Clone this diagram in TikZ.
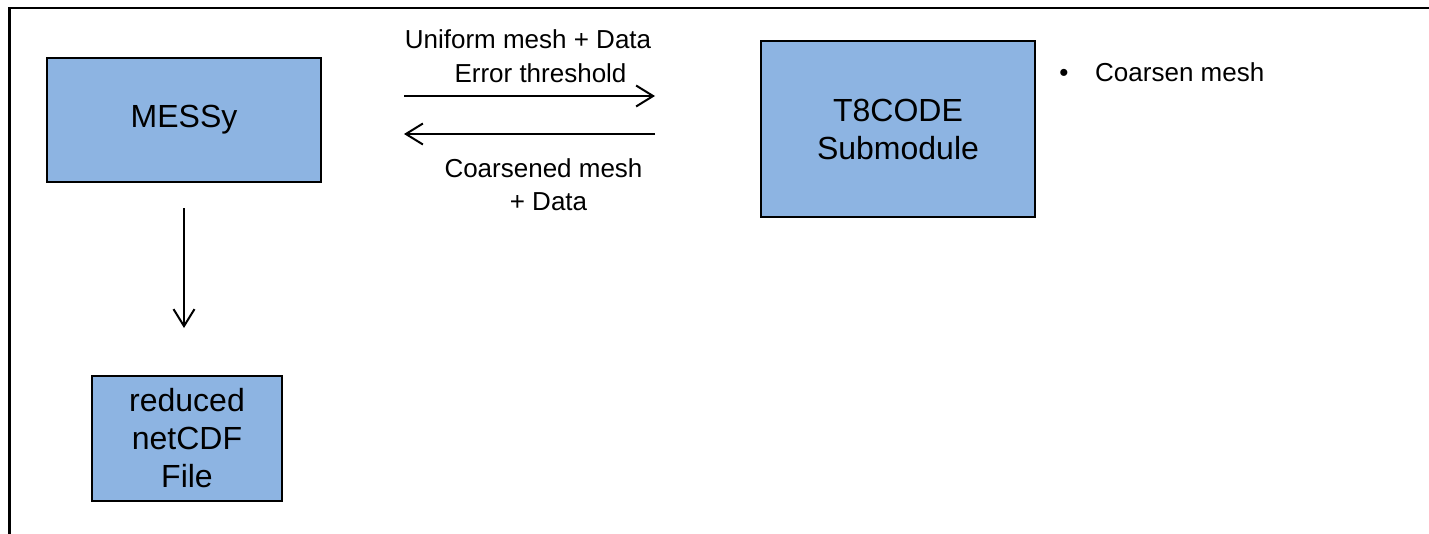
\documentclass[tikz,border=0pt]{standalone}
\usepackage{fontspec}
\setmainfont{Liberation Sans}
\usetikzlibrary{arrows.meta}
\definecolor{boxblue}{RGB}{141,180,226}
\tikzset{
  block/.style={draw=black, line width=2pt, fill=boxblue, align=center, inner sep=0pt,
    font=\fontsize{32}{38}\selectfont},
  lbl/.style={font=\fontsize{26}{31}\selectfont, inner sep=0pt, anchor=base},
  arr/.style={line width=2pt, -{Straight Barb[length=17pt,width=21pt,line width=2pt]}},
}
\begin{document}
\begin{tikzpicture}[x=1pt,y=-1pt]
\useasboundingbox (0,0) rectangle (1429,533);
\draw[line width=2.4pt] (9.5,540) |- (1440,8);
\node[block, minimum width=274pt, minimum height=124pt] (messy) at (184,120) {MESSy};
\node[block, minimum width=274pt, minimum height=176pt] (t8) at (898,129) {T8CODE\\Submodule};
\node[block, minimum width=190pt, minimum height=125pt] (red) at (187,438.5) {reduced\\netCDF\\File};
\coordinate (r1) at (404,96);
\coordinate (r2) at (655,96);
\coordinate (l1) at (655,134);
\coordinate (l2) at (404,134);
\draw[arr] (r1) -- (r2);
\draw[arr] (l1) -- (l2);
\draw[arr, shorten <=25pt, shorten >=47pt] (messy.south) -- (messy.south |- red.north);
\node[lbl] (u1) at (528,48) {Uniform mesh + Data};
\node[lbl] (u2) at (540.5,82) {Error threshold};
\node[lbl] (c1) at (543.5,177) {Coarsened mesh};
\node[lbl] (c2) at (548.5,210) {+ Data};
\node[lbl] (bul) at (1064,81) {•};
\node[lbl, anchor=base west] (cm) at (1095,81) {Coarsen mesh};
\end{tikzpicture}
\end{document}
